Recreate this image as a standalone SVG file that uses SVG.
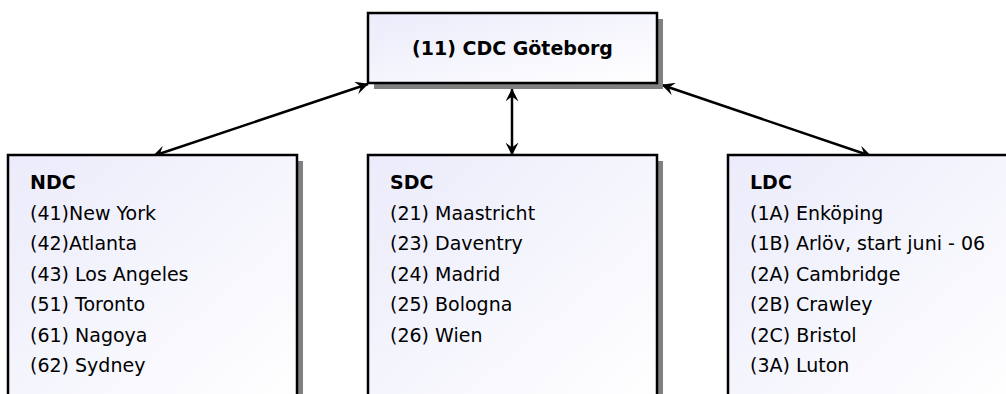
<svg xmlns="http://www.w3.org/2000/svg" width="1006" height="394" viewBox="0 0 1006 394">
<defs>
<linearGradient id="fill" x1="0" y1="0" x2="1" y2="1">
<stop offset="0" stop-color="#ebebfb"/>
<stop offset="1" stop-color="#ffffff"/>
</linearGradient>
<marker id="arr" viewBox="0 0 13 13" refX="12.5" refY="6.5" markerWidth="13" markerHeight="13" markerUnits="userSpaceOnUse" orient="auto-start-reverse">
<path d="M0,0 L13,6.5 L0,13 L5,6.5 z" fill="#000"/>
</marker>
</defs>
<style>
.shadow{fill:#808080}
.box{fill:url(#fill);stroke:#000;stroke-width:2.5}
.title{font-family:"DejaVu Sans",Verdana,sans-serif;font-size:19px;font-weight:bold;fill:#000}
.item{font-family:"DejaVu Sans",Verdana,sans-serif;font-size:19px;fill:#000}
.conn{stroke:#000;stroke-width:2.5;fill:none;marker-start:url(#arr);marker-end:url(#arr)}
</style>
<rect width="1006" height="394" fill="#fff"/>
<g id="connectors">
<line class="conn" x1="368" y1="84" x2="153" y2="156"/>
<line class="conn" x1="512" y1="89" x2="512" y2="155"/>
<line class="conn" x1="662" y1="85" x2="871" y2="156"/>
</g>
<g id="cdc">
<rect class="shadow" x="374" y="19" width="289" height="70"/>
<rect class="box" x="368" y="13" width="289" height="70"/>
<text class="title" x="512.5" y="55" text-anchor="middle">(11) CDC Göteborg</text>
</g>
<g id="ndc">
<rect class="shadow" x="14" y="161" width="289" height="250"/>
<rect class="box" x="8" y="155" width="289" height="250"/>
<text class="title" x="30" y="189">NDC</text>
<text class="item" x="30" y="219.5">(41)New York</text>
<text class="item" x="30" y="250">(42)Atlanta</text>
<text class="item" x="30" y="280.5">(43) Los Angeles</text>
<text class="item" x="30" y="311">(51) Toronto</text>
<text class="item" x="30" y="341.5">(61) Nagoya</text>
<text class="item" x="30" y="372">(62) Sydney</text>
</g>
<g id="sdc">
<rect class="shadow" x="374" y="161" width="289" height="250"/>
<rect class="box" x="368" y="155" width="289" height="250"/>
<text class="title" x="390" y="189">SDC</text>
<text class="item" x="390" y="219.5">(21) Maastricht</text>
<text class="item" x="390" y="250">(23) Daventry</text>
<text class="item" x="390" y="280.5">(24) Madrid</text>
<text class="item" x="390" y="311">(25) Bologna</text>
<text class="item" x="390" y="341.5">(26) Wien</text>
</g>
<g id="ldc">
<rect class="shadow" x="734" y="161" width="289" height="250"/>
<rect class="box" x="728" y="155" width="289" height="250"/>
<text class="title" x="750" y="189">LDC</text>
<text class="item" x="750" y="219.5">(1A) Enköping</text>
<text class="item" x="750" y="250">(1B) Arlöv, start juni - 06</text>
<text class="item" x="750" y="280.5">(2A) Cambridge</text>
<text class="item" x="750" y="311">(2B) Crawley</text>
<text class="item" x="750" y="341.5">(2C) Bristol</text>
<text class="item" x="750" y="372">(3A) Luton</text>
</g>
</svg>
